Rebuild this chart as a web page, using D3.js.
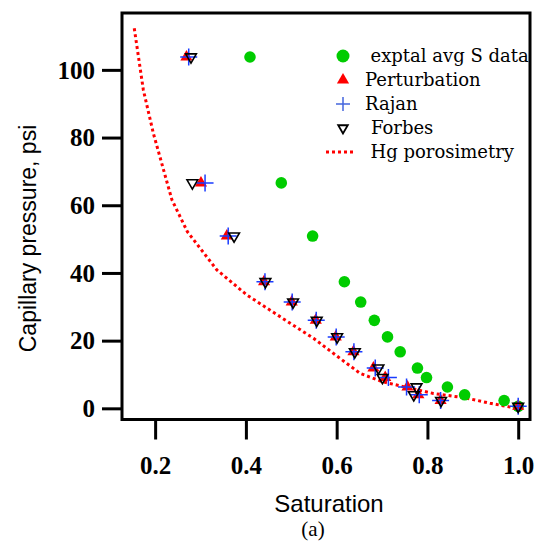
<!DOCTYPE html>
<html>
<head>
<meta charset="utf-8">
<script src="https://cdn.jsdelivr.net/npm/d3@7"></script>
<style>
  body { margin: 0; background: #fff; }
  svg { display: block; }
</style>
</head>
<body>
<svg id="chart" width="537" height="542"></svg>
<script>
// pressure levels shared by the measured and the model points (psi)
const pressure = [103.8, 66.6, 50.9, 37.4, 31.4, 26.0, 21.1, 16.7, 11.9, 9.1, 6.3, 4.0, 2.3, 0.6];

const exptalS = [0.409, 0.478, 0.547, 0.617, 0.653, 0.683, 0.712, 0.740, 0.778, 0.798, 0.844, 0.882, 0.969, 1.0];
const perturbS = [0.269, 0.301, 0.358, 0.440, 0.501, 0.554, 0.598, 0.637, 0.681, 0.707, 0.756, 0.780, 0.829, 1.0];
const rajanS = [0.274, 0.310, 0.361, 0.442, 0.502, 0.555, 0.599, 0.638, 0.685, 0.714, 0.754, 0.782, 0.829, 1.0];
const forbesS = [0.279, 0.282, 0.374, 0.443, 0.504, 0.556, 0.601, 0.640, 0.692, 0.701, 0.776, 0.770, 0.830, 1.0];

// mercury porosimetry curve
const hgS = [0.154, 0.174, 0.196, 0.237, 0.271, 0.336, 0.402, 0.475, 0.549, 0.607, 0.652, 0.700, 0.754, 0.813, 0.887, 0.938, 0.997];
const hgP = [112.3, 94.1, 81.3, 61.6, 52.2, 40.9, 33.5, 27.1, 20.7, 14.8, 10.3, 7.9, 6.2, 4.4, 3.0, 1.5, 0.0];

const xTicks = [0.2, 0.4, 0.6, 0.8, 1.0];
const yTicks = [0, 20, 40, 60, 80, 100];

const legendItems = ["exptal avg S data", "Perturbation", "Rajan", "Forbes", "Hg porosimetry"];

const svg = d3.select("#chart");
const m = { left: 122, right: 530, top: 13, bottom: 419.5 };

const x = d3.scaleLinear().domain([0.127, 1.026]).range([m.left, m.right]);
const y = d3.scaleLinear().domain([-3.3, 116.8]).range([m.bottom, m.top]);

const tickFont = "'Liberation Serif', serif";
const green = "#00cc00", red = "#ff0000", blue = "#1a3cff";

// axes
const xAxis = svg.append("g")
    .attr("transform", `translate(0,${m.bottom})`)
    .call(d3.axisBottom(x).tickValues(xTicks).tickFormat(d3.format(".1f")).tickSize(20).tickSizeOuter(0));
xAxis.select(".domain").remove();
xAxis.selectAll("line").attr("stroke", "#000").attr("stroke-width", 3);
xAxis.selectAll("text")
    .attr("y", 54.5).attr("dy", null)
    .attr("font-family", tickFont).attr("font-size", 25).attr("font-weight", "bold")
    .attr("fill", "#000");

const yAxis = svg.append("g")
    .attr("transform", `translate(${m.left},0)`)
    .call(d3.axisLeft(y).tickValues(yTicks).tickSize(20).tickSizeOuter(0));
yAxis.select(".domain").remove();
yAxis.selectAll("line").attr("stroke", "#000").attr("stroke-width", 3);
yAxis.selectAll("text")
    .attr("x", -27).attr("dy", "0.33em")
    .attr("font-family", tickFont).attr("font-size", 25).attr("font-weight", "bold")
    .attr("fill", "#000");

// Hg porosimetry dotted line
const hgData = hgS.map((s, i) => [s, hgP[i]]);
svg.append("path")
    .datum(hgData)
    .attr("fill", "none")
    .attr("stroke", red)
    .attr("stroke-width", 3)
    .attr("stroke-dasharray", "3,3")
    .attr("d", d3.line().x(d => x(d[0])).y(d => y(d[1])));

// experimental points
svg.append("g").selectAll("circle")
    .data(exptalS.map((s, i) => [s, pressure[i]]))
    .join("circle")
    .attr("cx", d => x(d[0]))
    .attr("cy", d => y(d[1]))
    .attr("r", 5.8)
    .attr("fill", green);

const triUp = d3.symbol().type(d3.symbolTriangle).size(64);
const triDown = d3.symbol().type(d3.symbolTriangle).size(50);

function crossPath(r) {
    const p = d3.path();
    p.moveTo(-r, 0); p.lineTo(r, 0);
    p.moveTo(0, -r); p.lineTo(0, r);
    return p.toString();
}

// perturbation
svg.append("g").selectAll("path")
    .data(perturbS.map((s, i) => [s, pressure[i]]))
    .join("path")
    .attr("transform", d => `translate(${x(d[0])},${y(d[1])})`)
    .attr("d", triUp)
    .attr("fill", red);

// rajan
svg.append("g").selectAll("path")
    .data(rajanS.map((s, i) => [s, pressure[i]]))
    .join("path")
    .attr("transform", d => `translate(${x(d[0])},${y(d[1])})`)
    .attr("d", crossPath(8.5))
    .attr("stroke", blue)
    .attr("stroke-width", 1.5);

// forbes
svg.append("g").selectAll("path")
    .data(forbesS.map((s, i) => [s, pressure[i]]))
    .join("path")
    .attr("transform", d => `translate(${x(d[0])},${y(d[1])}) rotate(180)`)
    .attr("d", triDown)
    .attr("fill", "none")
    .attr("stroke", "#000")
    .attr("stroke-width", 1.6);

// frame
svg.append("rect")
    .attr("x", m.left).attr("y", m.top)
    .attr("width", m.right - m.left).attr("height", m.bottom - m.top)
    .attr("fill", "none").attr("stroke", "#000").attr("stroke-width", 3);

// legend
const lg = svg.append("g").attr("font-family", "'DejaVu Serif', serif").attr("font-size", 18).attr("fill", "#000");
const rowY = [56, 80, 104, 128, 152];
const textX = [370.5, 365, 365, 371, 370.5];
legendItems.forEach((name, i) => {
    lg.append("text").attr("x", textX[i]).attr("y", rowY[i]).attr("dy", "0.36em").text(name);
});
lg.append("circle").attr("cx", 343).attr("cy", rowY[0]).attr("r", 6.5).attr("fill", green);
lg.append("path").attr("transform", `translate(343,${rowY[1]})`).attr("d", triUp).attr("fill", red);
lg.append("path").attr("transform", `translate(343,${rowY[2]})`).attr("d", crossPath(7)).attr("stroke", "#4466dd").attr("stroke-width", 1.5);
lg.append("path").attr("transform", `translate(343,${rowY[3]}) rotate(180)`).attr("d", d3.symbol().type(d3.symbolTriangle).size(40)).attr("fill", "none").attr("stroke", "#000").attr("stroke-width", 1.8);
lg.append("line").attr("x1", 326).attr("x2", 356).attr("y1", rowY[4]).attr("y2", rowY[4])
    .attr("stroke", red).attr("stroke-width", 3).attr("stroke-dasharray", "3,3");

// axis titles
svg.append("text")
    .attr("x", 329).attr("y", 512)
    .attr("text-anchor", "middle")
    .attr("font-family", "'Liberation Sans', Arial, sans-serif").attr("font-size", 24)
    .text("Saturation");

svg.append("text")
    .attr("transform", "translate(36,238.5) rotate(-90)")
    .attr("text-anchor", "middle")
    .attr("font-family", "'Liberation Sans', Arial, sans-serif").attr("font-size", 23)
    .text("Capillary pressure, psi");

svg.append("text")
    .attr("x", 313).attr("y", 536)
    .attr("text-anchor", "middle")
    .attr("font-family", tickFont).attr("font-size", 21)
    .text("(a)");
</script>
</body>
</html>
